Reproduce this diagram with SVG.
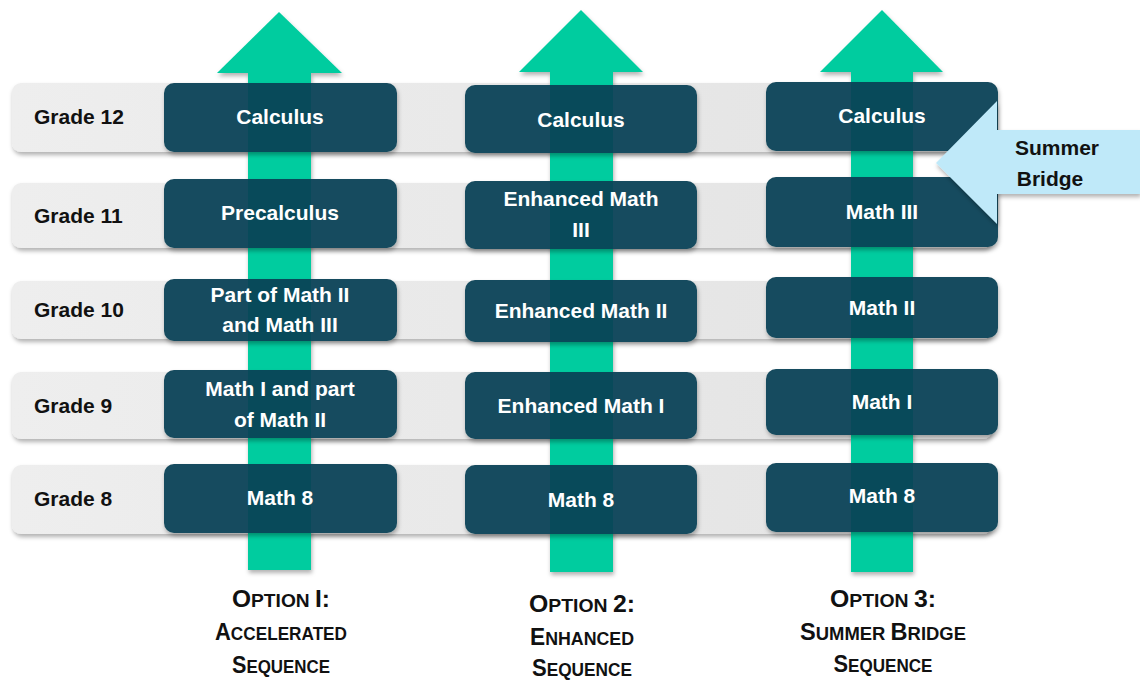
<svg xmlns="http://www.w3.org/2000/svg" width="1140" height="681" viewBox="0 0 1140 681">
<defs>
<filter id="sh" x="-10%" y="-20%" width="120%" height="150%">
<feDropShadow dx="1" dy="3" stdDeviation="2" flood-color="#000" flood-opacity="0.3"/>
</filter>
<linearGradient id="bandg" x1="0" y1="0" x2="1" y2="0">
<stop offset="0" stop-color="#eeeeee"/>
<stop offset="1" stop-color="#e3e3e3"/>
</linearGradient>
<style>
.band{fill:url(#bandg);filter:url(#sh)}
.box{fill:#194c5f;filter:url(#sh)}
.ov{fill:#004a57;opacity:0.6}
.arrow{fill:#00cc9f}
.gt{font-family:"Liberation Sans",Arial,sans-serif;font-weight:bold;font-size:21px;fill:#111}
.ct{font-family:"Liberation Sans",Arial,sans-serif;font-weight:bold;font-size:21px;fill:#fff;text-anchor:middle}
.ot{font-family:"Liberation Sans",Arial,sans-serif;font-weight:bold;fill:#111;text-anchor:middle}
.big{font-size:23px}
.sm{font-size:18px}
.sb{fill:#bfe9f9;filter:url(#sh)}
.sbt{font-family:"Liberation Sans",Arial,sans-serif;font-weight:bold;font-size:21px;fill:#111;text-anchor:middle}
</style>
</defs>
<rect width="1140" height="681" fill="#fff"/>

<g id="grade-bands">
<g id="band-12"><rect class="band" x="12" y="83" width="980" height="69" rx="9"/><text class="gt" x="34" y="124">Grade 12</text></g>
<g id="band-11"><rect class="band" x="12" y="183" width="980" height="65" rx="9"/><text class="gt" x="34" y="223">Grade 11</text></g>
<g id="band-10"><rect class="band" x="12" y="281" width="980" height="58" rx="9"/><text class="gt" x="34" y="317">Grade 10</text></g>
<g id="band-9"><rect class="band" x="12" y="372" width="980" height="67" rx="9"/><text class="gt" x="34" y="413">Grade 9</text></g>
<g id="band-8"><rect class="band" x="12" y="465" width="980" height="69" rx="9"/><text class="gt" x="34" y="506">Grade 8</text></g>
</g>

<g id="connectors">
<g id="arrow-1" filter="url(#sh)"><rect class="arrow" x="248" y="72" width="63" height="498"/><polygon class="arrow" points="279,12 342,73 217,73"/></g>
<g id="arrow-2" filter="url(#sh)"><rect class="arrow" x="550" y="71" width="63" height="501"/><polygon class="arrow" points="581,10 643,72 519,72"/></g>
<g id="arrow-3" filter="url(#sh)"><rect class="arrow" x="851" y="71" width="62" height="501"/><polygon class="arrow" points="882,10 943,72 820,72"/></g>
</g>

<g id="col1">
<g id="c1-calculus"><rect class="box" x="164" y="83" width="233" height="69" rx="10"/><rect class="ov" x="248" y="83" width="63" height="69"/><text class="ct" x="280" y="124">Calculus</text></g>
<g id="c1-precalc"><rect class="box" x="164" y="179" width="233" height="69" rx="10"/><rect class="ov" x="248" y="179" width="63" height="69"/><text class="ct" x="280" y="220">Precalculus</text></g>
<g id="c1-g10"><rect class="box" x="164" y="279" width="233" height="62" rx="10"/><rect class="ov" x="248" y="279" width="63" height="62"/><text class="ct" x="280" y="302">Part of Math II</text><text class="ct" x="280" y="332">and Math III</text></g>
<g id="c1-g9"><rect class="box" x="164" y="370" width="233" height="68" rx="10"/><rect class="ov" x="248" y="370" width="63" height="68"/><text class="ct" x="280" y="396">Math I and part</text><text class="ct" x="280" y="427">of Math II</text></g>
<g id="c1-g8"><rect class="box" x="164" y="464" width="233" height="69" rx="10"/><rect class="ov" x="248" y="464" width="63" height="69"/><text class="ct" x="280" y="505">Math 8</text></g>
</g>

<g id="col2">
<g id="c2-calculus"><rect class="box" x="465" y="85" width="232" height="68" rx="10"/><rect class="ov" x="550" y="85" width="63" height="68"/><text class="ct" x="581" y="127">Calculus</text></g>
<g id="c2-em3"><rect class="box" x="465" y="181" width="232" height="68" rx="10"/><rect class="ov" x="550" y="181" width="63" height="68"/><text class="ct" x="581" y="206">Enhanced Math</text><text class="ct" x="581" y="237">III</text></g>
<g id="c2-em2"><rect class="box" x="465" y="280" width="232" height="62" rx="10"/><rect class="ov" x="550" y="280" width="63" height="62"/><text class="ct" x="581" y="318">Enhanced Math II</text></g>
<g id="c2-em1"><rect class="box" x="465" y="372" width="232" height="67" rx="10"/><rect class="ov" x="550" y="372" width="63" height="67"/><text class="ct" x="581" y="413">Enhanced Math I</text></g>
<g id="c2-g8"><rect class="box" x="465" y="465" width="232" height="69" rx="10"/><rect class="ov" x="550" y="465" width="63" height="69"/><text class="ct" x="581" y="507">Math 8</text></g>
</g>

<g id="col3">
<g id="c3-calculus"><rect class="box" x="766" y="82" width="232" height="69" rx="10"/><rect class="ov" x="851" y="82" width="62" height="69"/><text class="ct" x="882" y="123">Calculus</text></g>
<g id="c3-m3"><rect class="box" x="766" y="177" width="232" height="70" rx="10"/><rect class="ov" x="851" y="177" width="62" height="70"/><text class="ct" x="882" y="219">Math III</text></g>
<g id="c3-m2"><rect class="box" x="766" y="277" width="232" height="61" rx="10"/><rect class="ov" x="851" y="277" width="62" height="61"/><text class="ct" x="882" y="315">Math II</text></g>
<g id="c3-m1"><rect class="box" x="766" y="369" width="232" height="66" rx="10"/><rect class="ov" x="851" y="369" width="62" height="66"/><text class="ct" x="882" y="409">Math I</text></g>
<g id="c3-g8"><rect class="box" x="766" y="463" width="232" height="69" rx="10"/><rect class="ov" x="851" y="463" width="62" height="69"/><text class="ct" x="882" y="503">Math 8</text></g>
</g>

<g id="summer-bridge">
<polygon class="sb" points="936,163 997,101 997,130 1140,130 1140,194 997,194 997,224"/>
<text class="sbt" x="1057" y="155">Summer</text>
<text class="sbt" x="1050" y="186">Bridge</text>
</g>

<g id="option-labels">
<g id="opt1">
<text class="ot" x="281" y="607" textLength="98" lengthAdjust="spacingAndGlyphs"><tspan class="big">O</tspan><tspan class="sm">PTION </tspan><tspan class="big">I:</tspan></text>
<text class="ot" x="281" y="640" textLength="132" lengthAdjust="spacingAndGlyphs"><tspan class="big">A</tspan><tspan class="sm">CCELERATED</tspan></text>
<text class="ot" x="281" y="673" textLength="98" lengthAdjust="spacingAndGlyphs"><tspan class="big">S</tspan><tspan class="sm">EQUENCE</tspan></text>
</g>
<g id="opt2">
<text class="ot" x="582" y="612" textLength="106" lengthAdjust="spacingAndGlyphs"><tspan class="big">O</tspan><tspan class="sm">PTION </tspan><tspan class="big">2:</tspan></text>
<text class="ot" x="582" y="645" textLength="104" lengthAdjust="spacingAndGlyphs"><tspan class="big">E</tspan><tspan class="sm">NHANCED</tspan></text>
<text class="ot" x="582" y="676" textLength="100" lengthAdjust="spacingAndGlyphs"><tspan class="big">S</tspan><tspan class="sm">EQUENCE</tspan></text>
</g>
<g id="opt3">
<text class="ot" x="883" y="607" textLength="106" lengthAdjust="spacingAndGlyphs"><tspan class="big">O</tspan><tspan class="sm">PTION </tspan><tspan class="big">3:</tspan></text>
<text class="ot" x="883" y="640" textLength="166" lengthAdjust="spacingAndGlyphs"><tspan class="big">S</tspan><tspan class="sm">UMMER </tspan><tspan class="big">B</tspan><tspan class="sm">RIDGE</tspan></text>
<text class="ot" x="883" y="672" textLength="99" lengthAdjust="spacingAndGlyphs"><tspan class="big">S</tspan><tspan class="sm">EQUENCE</tspan></text>
</g>
</g>
</svg>
